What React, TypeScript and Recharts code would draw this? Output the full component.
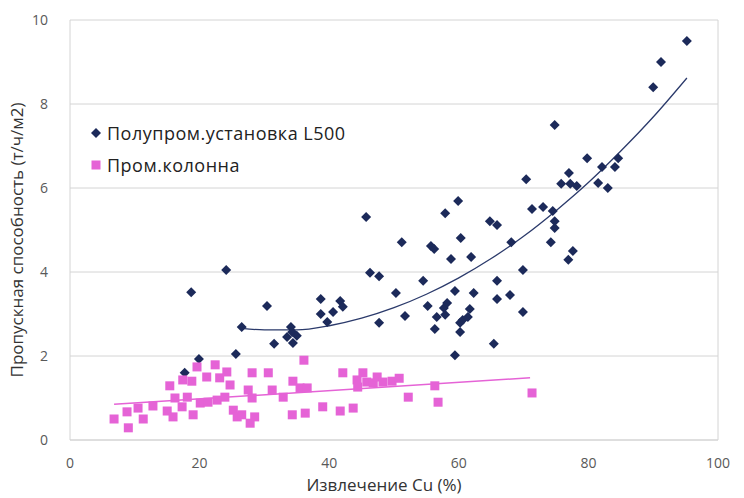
import React from "react";
import { ComposedChart, Scatter, Line, XAxis, YAxis, CartesianGrid, ReferenceLine } from "recharts";

const NAVY = "#1c2a5a";
const PINK = "#e563d6";

// Полупром.установка L500
const pilotX = [17.7, 19.9, 18.7, 24.1, 25.6, 26.5, 30.4, 31.5, 34.1, 34.3, 33.5, 35.0, 34.4, 38.7, 38.7, 40.6, 41.7, 42.1, 39.7, 46.3, 47.7, 47.7, 45.7, 50.3, 51.2, 51.7, 54.5, 55.2, 55.7, 56.2, 56.3, 56.6, 57.7, 57.9, 58.2, 57.9, 58.8, 59.4, 59.4, 59.9, 60.2, 60.2, 60.3, 60.6, 61.4, 61.7, 61.9, 62.3, 64.8, 65.9, 65.4, 65.9, 65.9, 67.9, 68.1, 69.9, 69.9, 70.4, 71.3, 73.0, 74.5, 74.8, 74.8, 74.2, 74.8, 75.8, 77.0, 77.2, 78.2, 77.6, 76.9, 79.8, 81.5, 82.1, 83.0, 84.1, 84.6, 90.0, 91.2, 95.2];
const pilotY = [1.60, 1.93, 3.52, 4.05, 2.05, 2.69, 3.19, 2.29, 2.69, 2.57, 2.45, 2.48, 2.31, 3.36, 3.00, 3.05, 3.31, 3.17, 2.81, 3.98, 3.90, 2.79, 5.31, 3.50, 4.71, 2.95, 3.79, 3.19, 4.62, 4.55, 2.64, 2.93, 3.14, 2.98, 3.26, 5.40, 4.31, 3.55, 2.02, 5.69, 2.79, 2.57, 4.81, 2.86, 2.93, 3.12, 4.36, 3.50, 5.21, 5.12, 2.29, 3.79, 3.36, 3.45, 4.71, 4.05, 3.05, 6.21, 5.50, 5.55, 5.45, 5.21, 5.05, 4.71, 7.50, 6.10, 6.36, 6.10, 6.05, 4.50, 4.29, 6.71, 6.12, 6.50, 6.00, 6.50, 6.71, 8.40, 9.00, 9.50];

// Пром.колонна
const plantX = [6.8, 9.0, 8.8, 10.5, 11.3, 12.8, 15.0, 15.4, 16.2, 15.9, 17.4, 17.3, 18.1, 18.8, 19.6, 19.0, 20.1, 21.1, 22.4, 21.3, 23.1, 24.2, 24.7, 23.9, 22.7, 25.2, 25.8, 28.1, 30.6, 27.5, 28.1, 31.2, 34.4, 35.5, 36.6, 32.9, 26.5, 28.5, 27.8, 34.3, 36.3, 39.0, 41.7, 43.7, 36.1, 42.1, 44.3, 45.2, 45.8, 44.4, 46.8, 47.4, 48.3, 49.7, 50.8, 52.2, 56.3, 56.8, 71.3];
const plantY = [0.50, 0.29, 0.67, 0.76, 0.50, 0.81, 0.69, 1.29, 1.00, 0.55, 1.43, 0.79, 1.02, 1.40, 1.74, 0.60, 0.88, 1.50, 1.79, 0.90, 1.48, 1.62, 1.31, 1.02, 0.95, 0.71, 0.55, 1.60, 1.60, 1.19, 1.00, 1.19, 1.40, 1.24, 1.24, 1.02, 0.60, 0.55, 0.40, 0.60, 0.64, 0.79, 0.69, 0.76, 1.90, 1.60, 1.43, 1.60, 1.38, 1.26, 1.36, 1.50, 1.38, 1.40, 1.47, 1.02, 1.29, 0.90, 1.12];

// trend lines
const pilotTrendX = [26.5, 30, 35, 40, 45, 50, 55, 60, 65, 70, 75, 80, 85, 90, 95.2];
const pilotTrendY = [2.66, 2.62, 2.62, 2.72, 2.90, 3.15, 3.47, 3.86, 4.32, 4.85, 5.46, 6.13, 6.88, 7.69, 8.62];
const plantTrendX = [6.8, 71];
const plantTrendY = [0.85, 1.48];

const xTicks = [0, 20, 40, 60, 80, 100];
const yTicks = [0, 2, 4, 6, 8, 10];

const zip = (xs: number[], ys: number[]) => xs.map((x, i) => ({ x, y: ys[i] }));

const pilot = zip(pilotX, pilotY);
const plant = zip(plantX, plantY);
const pilotTrend = zip(pilotTrendX, pilotTrendY);
const plantTrend = zip(plantTrendX, plantTrendY);

const Diamond = (props: any) => {
    const { cx, cy } = props;
    const r = 5;
    return <path d={`M${cx} ${cy - r}L${cx + r} ${cy}L${cx} ${cy + r}L${cx - r} ${cy}Z`} fill={NAVY} />;
};

const Square = (props: any) => {
    const { cx, cy } = props;
    return <rect x={cx - 4.5} y={cy - 4.5} width={9} height={9} fill={PINK} />;
};

const FONT = "'Open Sans', sans-serif";

const LegendBox = () => (
    <div style={{ position: "absolute", left: 90, top: 117, fontFamily: FONT, fontSize: 18, letterSpacing: 0.5, color: "#222", lineHeight: "32px" }}>
        <div style={{ display: "flex", alignItems: "center" }}>
            <svg width={12} height={12} style={{ marginRight: 5 }}>
                <path d="M6 1L11 6L6 11L1 6Z" fill={NAVY} />
            </svg>
            Полупром.установка L500
        </div>
        <div style={{ display: "flex", alignItems: "center" }}>
            <svg width={12} height={12} style={{ marginRight: 5 }}>
                <rect x={1.5} y={1.5} width={9} height={9} fill={PINK} />
            </svg>
            Пром.колонна
        </div>
    </div>
);

export default function App() {
    return (
        <div style={{ position: "absolute", left: 0, top: 0, width: 744, height: 498, background: "#fff" }}>
            <ComposedChart width={744} height={498} margin={{ top: 20, right: 26, bottom: 0, left: 0 }}>
                <CartesianGrid vertical={false} stroke="#d4d4d4" />
                <XAxis
                    type="number"
                    dataKey="x"
                    domain={[0, 100]}
                    ticks={xTicks}
                    height={58}
                    tickLine={false}
                    axisLine={{ stroke: "#d4d4d4" }}
                    tickSize={6}
                    tickMargin={12}
                    tick={{ fill: "#595959", fontSize: 14, fontFamily: FONT }}
                    label={{ value: "Извлечение Cu (%)", position: "insideBottom", offset: 7, dx: -10, fill: "#333", fontSize: 17, fontFamily: FONT }}
                />
                <YAxis
                    type="number"
                    domain={[0, 10]}
                    ticks={yTicks}
                    width={70}
                    tickLine={false}
                    axisLine={{ stroke: "#d4d4d4" }}
                    tickSize={6}
                    tickMargin={16}
                    tick={{ fill: "#595959", fontSize: 14, fontFamily: FONT }}
                    label={{ value: "Пропускная способность (т/ч/м2)", angle: -90, position: "insideLeft", offset: 17, dy: 10, fill: "#333", fontSize: 17, fontFamily: FONT, textAnchor: "middle" }}
                />
                <ReferenceLine x={100} stroke="#d4d4d4" />
                <Scatter name="Полупром.установка L500" data={pilot} dataKey="y" shape={<Diamond />} isAnimationActive={false} />
                <Scatter name="Пром.колонна" data={plant} dataKey="y" shape={<Square />} isAnimationActive={false} />
                <Line data={pilotTrend} dataKey="y" type="monotone" dot={false} stroke="#2b3a6b" strokeWidth={1.3} isAnimationActive={false} />
                <Line data={plantTrend} dataKey="y" type="linear" dot={false} stroke={PINK} strokeWidth={1.5} isAnimationActive={false} />
            </ComposedChart>
            <LegendBox />
        </div>
    );
}
